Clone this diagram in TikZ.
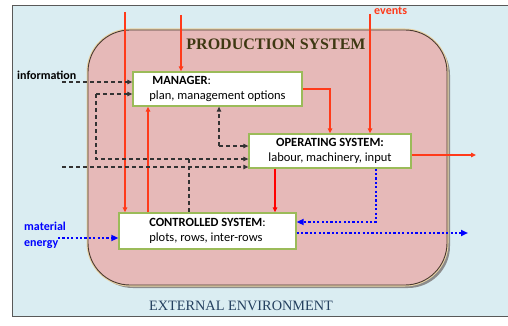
\documentclass[tikz,border=0pt]{standalone}
\usepackage{fontspec}
\setmainfont{Liberation Serif}
\newfontfamily\calfont{Carlito}
\usetikzlibrary{arrows.meta}
\definecolor{envbg}{HTML}{DAEDF2}
\definecolor{psfill}{HTML}{E6B9B8}
\definecolor{psedge}{HTML}{4A3A30}
\definecolor{psglow}{HTML}{E9D3A6}
\definecolor{boxedge}{HTML}{9BBB59}
\definecolor{redarr}{HTML}{FF3A1A}
\definecolor{titlecol}{HTML}{3E3812}
\definecolor{envcol}{HTML}{24405F}
\tikzset{
  box/.style={draw=boxedge, line width=1.3pt, fill=white, inner sep=2pt, font=\calfont\fontsize{12.5}{14.5}\selectfont},
  redline/.style={draw=redarr, line width=1.4pt, -{Triangle[length=5pt,width=4.5pt]}},
  dashline/.style={draw=black!80, line width=1.1pt, dash pattern=on 4pt off 3pt, -{Triangle[length=5pt,width=4.5pt]}},
  dotline/.style={draw=blue, line width=2.2pt, dash pattern=on 2.2pt off 2.2pt, -{Triangle[length=7pt,width=6pt]}},
  lbl/.style={font=\calfont\bfseries\fontsize{12}{14}\selectfont, inner sep=0pt, anchor=west}
}
\begin{document}
\begin{tikzpicture}[x=1pt,y=-1pt]
\useasboundingbox (0,0) rectangle (508,326);
\fill[white] (0,0) rectangle (508,326);
% environment frame
\draw[fill=envbg, draw=black!65, line width=1pt] (12,6) rectangle (512,316);
% production system
\fill[black!45, rounded corners=42pt] (91,33) rectangle (450,288);
\draw[psglow, line width=3pt, rounded corners=42pt] (88,30) rectangle (447,285);
\draw[fill=psfill, draw=psedge, line width=0.9pt, rounded corners=42pt] (88,30) rectangle (447,285);
\node[font=\bfseries\fontsize{16}{18}\selectfont, text=titlecol] (pstitle) at (276,44) {PRODUCTION SYSTEM};
\node[font=\fontsize{14.3}{16}\selectfont, text=envcol] (envtitle) at (241,306) {EXTERNAL ENVIRONMENT};
% boxes
\node[box, minimum width=169pt, minimum height=34pt, align=left] (mgr) at (217.5,89)
  {\hspace{3pt}\textbf{MANAGER}:\\plan, management options};
\node[box, minimum width=162pt, minimum height=34pt, align=center] (op) at (330,151)
  {\textbf{OPERATING SYSTEM:}\\labour, machinery, input};
\node[box, minimum width=177pt, minimum height=36pt, align=left] (ctrl) at (207.5,231)
  {\textbf{CONTROLLED SYSTEM}:\\plots, rows, inter-rows};
% labels
\node[lbl, text=black] (info) at (17,75) {information};
\node[lbl, text=redarr] (events) at (374,11) {events};
\node[lbl, text=blue] (mat) at (24,226) {material};
\node[lbl, text=blue] (energy) at (24,245) {energy};
% coordinates
\coordinate (r1) at (125,12);
\coordinate (r2) at (181,15);
\coordinate (r3) at (148,0);
\coordinate (r4) at (330,0);
\coordinate (ev) at (370,14);
\coordinate (out) at (476,155);
\coordinate (r7) at (275,0);
\coordinate (dinfo) at (62,82);
\coordinate (db) at (96,94);
\coordinate (dbb) at (0,159);
\coordinate (dc) at (219,146);
\coordinate (dd) at (62,167);
\coordinate (de) at (189,159);
\coordinate (bin) at (58,238);
\coordinate (bop) at (376,0);
\coordinate (bmid) at (0,222);
\coordinate (bout) at (468,233);
% red arrows
\draw[redline] (r1) -- (r1 |- ctrl.north);
\draw[redline] (r2) -- (r2 |- mgr.north);
\draw[redline] (r3 |- ctrl.north) -- (r3 |- mgr.south);
\draw[redline] (mgr.east) -| (r4 |- op.north);
\draw[redline] (ev) -- (ev |- op.north);
\draw[redline] (out -| op.east) -- (out);
\draw[redline, draw=red] (r7 |- op.south) -- (r7 |- ctrl.north);
% dashed arrows
\draw[dashline] (dinfo) -- (dinfo -| mgr.west);
\draw[dashline] (db) -- (db -| mgr.west);
\draw[dashline] (db) |- (dbb -| op.west);
\draw[dashline] (dc) -- (dc |- mgr.south);
\draw[dashline] (dc) -- (dc -| op.west);
\draw[dashline] (dd) -- (dd -| op.west);
\draw[dashline, -] (de) -- (de |- ctrl.north);
% blue dotted arrows
\draw[dotline] (bin) -- (bin -| ctrl.west);
\draw[dotline] (bop |- op.south) |- (bmid -| ctrl.east);
\draw[dotline] (bout -| ctrl.east) -- (bout);
\end{tikzpicture}
\end{document}
